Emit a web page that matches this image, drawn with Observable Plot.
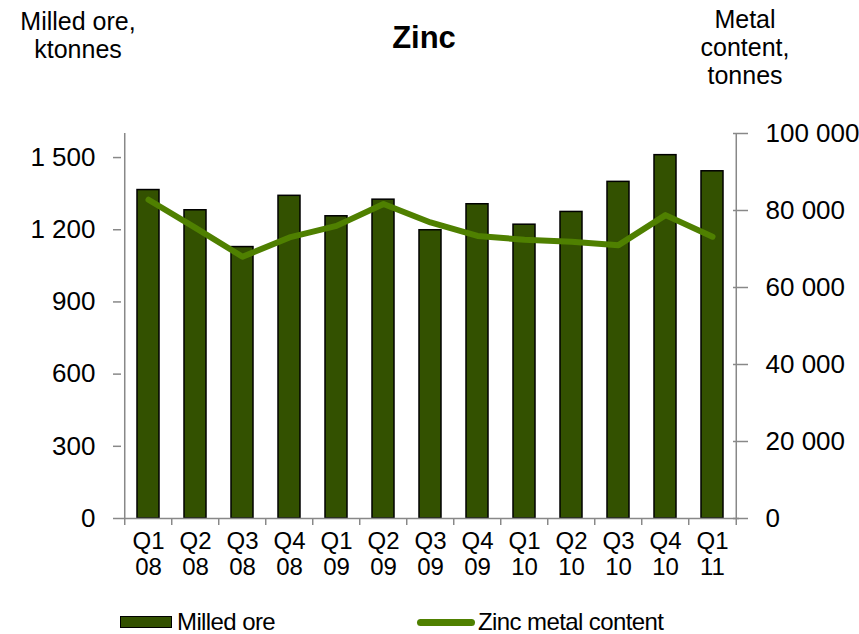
<!DOCTYPE html>
<html>
<head>
<meta charset="utf-8">
<script src="https://cdn.jsdelivr.net/npm/d3@7"></script>
<script src="https://cdn.jsdelivr.net/npm/@observablehq/plot@0.6"></script>
<style>
  body { margin: 0; background: #fff; font-family: "Liberation Sans", Arial, sans-serif; }
  #wrap { position: relative; width: 859px; height: 634px; }
  .lbl { position: absolute; color: #000; font-size: 25px; text-align: center; line-height: 28px; white-space: nowrap; }
  #title { font-weight: bold; font-size: 31px; }
  .leg { position: absolute; top: 608px; font-size: 24px; display: flex; align-items: center; white-space: nowrap; letter-spacing: -0.6px; }
</style>
</head>
<body>
<div id="wrap">
  <div id="chart"></div>
  <div class="lbl" id="ltitle" style="left:3px; top:7px; width:150px;">Milled ore,<br>ktonnes</div>
  <div class="lbl" id="title" style="left:324px; top:24px; width:200px;">Zinc</div>
  <div class="lbl" id="rtitle" style="left:684px; top:5px; width:122px;">Metal<br>content,<br>tonnes</div>
  <div class="leg" style="left:120px;"><span style="display:inline-block;width:50px;height:10px;background:#335100;border:1.5px solid #000;margin-right:5px;"></span><span>Milled ore</span></div>
  <div class="leg" style="left:417px;"><span style="display:inline-block;width:58px;height:7px;border-radius:3.5px;background:#4f8000;margin-right:3px;"></span><span>Zinc metal content</span></div>
</div>
<script>
const categories = ["Q1 08","Q2 08","Q3 08","Q4 08","Q1 09","Q2 09","Q3 09","Q4 09","Q1 10","Q2 10","Q3 10","Q4 10","Q1 11"];
const milledOre = [1365, 1281, 1128, 1341, 1256, 1325, 1198, 1306, 1221, 1274, 1399, 1510, 1443];
const zincMetal = [82800, 75500, 68000, 73000, 76000, 81700, 76900, 73400, 72400, 71900, 71000, 78800, 73200];
const leftTicks = [0, 300, 600, 900, 1200, 1500];
const rightTicks = [0, 20000, 40000, 60000, 80000, 100000];

const leftMax = 1600, rightMax = 100000;
const K = leftMax / rightMax;
const W = 859, H = 634;
const mL = 121, mR = 120, mT = 133, mB = 116;
const step = (W - mL - mR) / categories.length;
const pxToY = leftMax / (H - mT - mB);

const rows = categories.map((c, i) => ({cat: c, ore: milledOre[i], metal: zincMetal[i] * K}));
const fmt = v => d3.format(",")(v).replace(/,/g, " ");
const axisColor = "#888";

const chart = Plot.plot({
  width: W, height: H,
  marginLeft: mL, marginRight: mR, marginTop: mT, marginBottom: mB,
  style: {fontFamily: "'Liberation Sans', Arial, sans-serif", background: "transparent", color: "#000"},
  x: {type: "band", domain: categories, paddingInner: 0.54, paddingOuter: 0.27, label: null},
  y: {domain: [0, leftMax], label: null},
  marks: [
    Plot.barY(rows, {x: "cat", y: "ore", fill: "#335100", stroke: "#000", strokeWidth: 1.5}),
    Plot.lineY(rows, {x: "cat", y: "metal", stroke: "#4f8000", strokeWidth: 6, strokeLinejoin: "round", strokeLinecap: "round"}),
    Plot.ruleY([0], {stroke: axisColor, strokeWidth: 1.5}),
    Plot.ruleX([categories[0]], {x: d => d, y1: 0, y2: leftMax, dx: -step / 2, stroke: axisColor, strokeWidth: 1.5}),
    Plot.ruleX([categories[categories.length - 1]], {x: d => d, y1: 0, y2: leftMax, dx: step / 2, stroke: axisColor, strokeWidth: 1.5}),
    Plot.ruleX(categories, {x: d => d, y1: 0, y2: -7 * pxToY, dx: -step / 2, stroke: axisColor, strokeWidth: 1.5, clip: false}),
    Plot.ruleX([categories[categories.length - 1]], {x: d => d, y1: 0, y2: -7 * pxToY, dx: step / 2, stroke: axisColor, strokeWidth: 1.5}),
    Plot.axisY(leftTicks, {anchor: "left", tickSize: 8, tickPadding: 18, tickFormat: fmt, fontSize: 26, stroke: axisColor, strokeWidth: 1.5, label: null}),
    Plot.axisY(rightTicks.map(v => v * K), {anchor: "right", tickSize: 15, dx: -7, tickPadding: 18, tickFormat: d => fmt(Math.round(d / K)), fontSize: 26, stroke: axisColor, strokeWidth: 1.5, label: null}),
    Plot.axisX({anchor: "bottom", tickSize: 0, tickPadding: 13, tickFormat: d => d.replace(" ", "\n"), fontSize: 24, lineHeight: 1.05, label: null})
  ]
});
document.getElementById("chart").appendChild(chart);
</script>
</body>
</html>
